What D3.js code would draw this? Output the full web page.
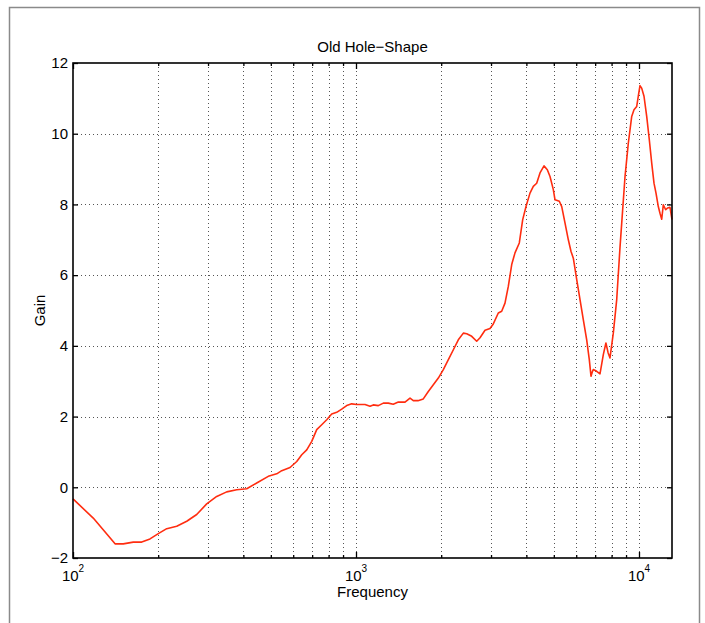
<!DOCTYPE html>
<html>
<head>
<meta charset="utf-8">
<script src="https://cdn.jsdelivr.net/npm/d3@7"></script>
<style>
  html, body { margin: 0; padding: 0; background: #fff; }
  svg { display: block; }
  text { font-family: "Liberation Sans", Arial, Helvetica, sans-serif; fill: #000; }
</style>
</head>
<body>
<svg id="chart" width="705" height="623"></svg>
<script>
// Measured gain response vs. frequency (Hz)
const freq = [
  100, 117.9, 140.8, 150.5, 163.3, 174.9, 187.1, 200.2, 214.4, 232.5,
  252.3, 273.6, 296.8, 322.0, 349.2, 378.8, 411.0, 445.8, 489.8, 524.6,
  546.5, 584.7, 617.5, 643.1, 669.8, 697.6, 726.4, 756.6, 788.0, 820.6,
  854.7, 890.2, 927.0, 965.6, 1005.8, 1076, 1121, 1151, 1199, 1249,
  1300, 1354, 1411, 1490, 1552, 1594, 1656, 1729, 1801, 1876,
  1954, 2035, 2120, 2208, 2299, 2395, 2462, 2564, 2670, 2743,
  2857, 2975, 3056, 3183, 3272, 3361, 3453, 3550, 3646, 3776,
  3882, 3988, 4119, 4232, 4350, 4469, 4617, 4743, 4848, 4980,
  5049, 5230, 5333, 5478, 5627, 5752, 5860, 6025, 6188, 6356,
  6534, 6674, 6767, 6850, 6895, 7088, 7281, 7480, 7640, 7780,
  7898, 8113, 8340, 8570, 8925, 9167, 9424, 9601, 9815, 9943,
  10081, 10221, 10416, 10647, 10875, 11090, 11298, 11484, 11700, 11863,
  12029, 12187, 12424, 12629, 12867, 13080
];
const gain = [
  -0.33, -0.87, -1.60, -1.60, -1.55, -1.55, -1.46, -1.31, -1.17, -1.10,
  -0.96, -0.77, -0.47, -0.26, -0.13, -0.07, -0.04, 0.12, 0.31, 0.38,
  0.47, 0.56, 0.73, 0.92, 1.06, 1.30, 1.63, 1.77, 1.91, 2.07,
  2.12, 2.21, 2.31, 2.36, 2.34, 2.34, 2.29, 2.33, 2.31, 2.38,
  2.38, 2.35, 2.41, 2.41, 2.52, 2.45, 2.45, 2.50, 2.71, 2.90,
  3.09, 3.33, 3.61, 3.89, 4.17, 4.36, 4.34, 4.27, 4.13, 4.23,
  4.44, 4.49, 4.62, 4.93, 4.98, 5.21, 5.68, 6.30, 6.63, 6.91,
  7.57, 7.94, 8.32, 8.51, 8.60, 8.89, 9.09, 8.98, 8.79, 8.42,
  8.13, 8.09, 7.94, 7.47, 7.00, 6.67, 6.48, 5.87, 5.31, 4.74,
  4.17, 3.61, 3.14, 3.28, 3.33, 3.28, 3.21, 3.75, 4.08, 3.80,
  3.66, 4.36, 5.30, 6.80, 8.79, 9.73, 10.49, 10.68, 10.77, 11.06,
  11.36, 11.29, 11.06, 10.49, 9.83, 9.17, 8.60, 8.32, 7.94, 7.75,
  7.58, 7.99, 7.85, 7.90, 7.92, 7.57
];

// Axis ticks
const yTicks = [-2, 0, 2, 4, 6, 8, 10, 12];
const xMajor = [100, 1000, 10000];
const xMajorExp = ["2", "3", "4"];
const xMinor = [200, 300, 400, 500, 600, 700, 800, 900,
                2000, 3000, 4000, 5000, 6000, 7000, 8000, 9000];
const xDomain = [100, 13080];
const yDomain = [-2, 12];

const titleText = "Old Hole\u2212Shape";
const xLabel = "Frequency";
const yLabel = "Gain";

const svg = d3.select("#chart");
const L = 73, R = 672, T = 63, B = 558;

const x = d3.scaleLog().domain(xDomain).range([L, R]);
const y = d3.scaleLinear().domain(yDomain).range([B, T]);

// Figure frame
svg.append("rect")
  .attr("x", 9.5).attr("y", 7.5).attr("width", 690).attr("height", 640)
  .attr("fill", "none").attr("stroke", "#8a8a8a").attr("stroke-width", 1.5);

// Dotted grid
const grid = svg.append("g").attr("stroke", "#555").attr("stroke-width", 1)
  .attr("stroke-dasharray", "1,3");
grid.selectAll("line.h").data(yTicks.filter(v => v > yDomain[0] && v < yDomain[1]))
  .join("line").attr("class", "h")
  .attr("x1", L).attr("x2", R)
  .attr("y1", d => Math.round(y(d)) + 0.5).attr("y2", d => Math.round(y(d)) + 0.5);
grid.selectAll("line.v").data(xMinor.concat(xMajor).filter(v => v > xDomain[0] && v < xDomain[1]))
  .join("line").attr("class", "v")
  .attr("x1", d => Math.round(x(d)) + 0.5).attr("x2", d => Math.round(x(d)) + 0.5)
  .attr("y1", T).attr("y2", B);

// Data curve
const line = d3.line().x((d, i) => x(freq[i])).y(d => y(d));
svg.append("path")
  .datum(gain)
  .attr("d", line)
  .attr("fill", "none")
  .attr("stroke", "#ff2d10")
  .attr("stroke-width", 1.6)
  .attr("stroke-linejoin", "round");

// Axes with inward ticks
function styleAxis(g) {
  g.select(".domain").remove();
  g.selectAll(".tick line").attr("stroke", "#000").attr("stroke-width", 1.3);
  g.selectAll("text").attr("font-size", 15)
    .attr("font-family", "'Liberation Sans', Arial, Helvetica, sans-serif");
}

svg.append("g").attr("transform", `translate(${L},0)`)
  .call(d3.axisLeft(y).tickValues(yTicks).tickSize(-5).tickPadding(5)
    .tickFormat(d3.format("d")))
  .call(styleAxis);

svg.append("g").attr("transform", `translate(${R},0)`)
  .call(d3.axisRight(y).tickValues(yTicks).tickSize(-5).tickFormat(""))
  .call(styleAxis);

svg.append("g").attr("transform", `translate(0,${B})`)
  .call(d3.axisBottom(x).tickValues(xMajor).tickSize(-6).tickFormat(""))
  .call(styleAxis);
svg.append("g").attr("transform", `translate(0,${B})`)
  .call(d3.axisBottom(x).tickValues(xMinor).tickSize(-3).tickFormat(""))
  .call(styleAxis);
svg.append("g").attr("transform", `translate(0,${T})`)
  .call(d3.axisTop(x).tickValues(xMajor).tickSize(-6).tickFormat(""))
  .call(styleAxis);
svg.append("g").attr("transform", `translate(0,${T})`)
  .call(d3.axisTop(x).tickValues(xMinor).tickSize(-3).tickFormat(""))
  .call(styleAxis);

// Power-of-ten labels
const xl = svg.append("g").selectAll("text").data(xMajor).join("text")
  .attr("x", d => x(d)).attr("y", 581)
  .attr("text-anchor", "middle").attr("font-size", 15);
xl.append("tspan").text("10");
xl.append("tspan").attr("dy", -9).attr("font-size", 10).text((d, i) => xMajorExp[i]);

// Axes box
svg.append("rect")
  .attr("x", L).attr("y", T).attr("width", R - L).attr("height", B - T)
  .attr("fill", "none").attr("stroke", "#000").attr("stroke-width", 1.6);

// Title and axis labels
svg.append("text").attr("x", (L + R) / 2).attr("y", 52)
  .attr("text-anchor", "middle").attr("font-size", 15).text(titleText);
svg.append("text").attr("x", (L + R) / 2).attr("y", 597)
  .attr("text-anchor", "middle").attr("font-size", 15).text(xLabel);
svg.append("text").attr("transform", `translate(45,${(T + B) / 2}) rotate(-90)`)
  .attr("text-anchor", "middle").attr("font-size", 15).text(yLabel);
</script>
</body>
</html>
